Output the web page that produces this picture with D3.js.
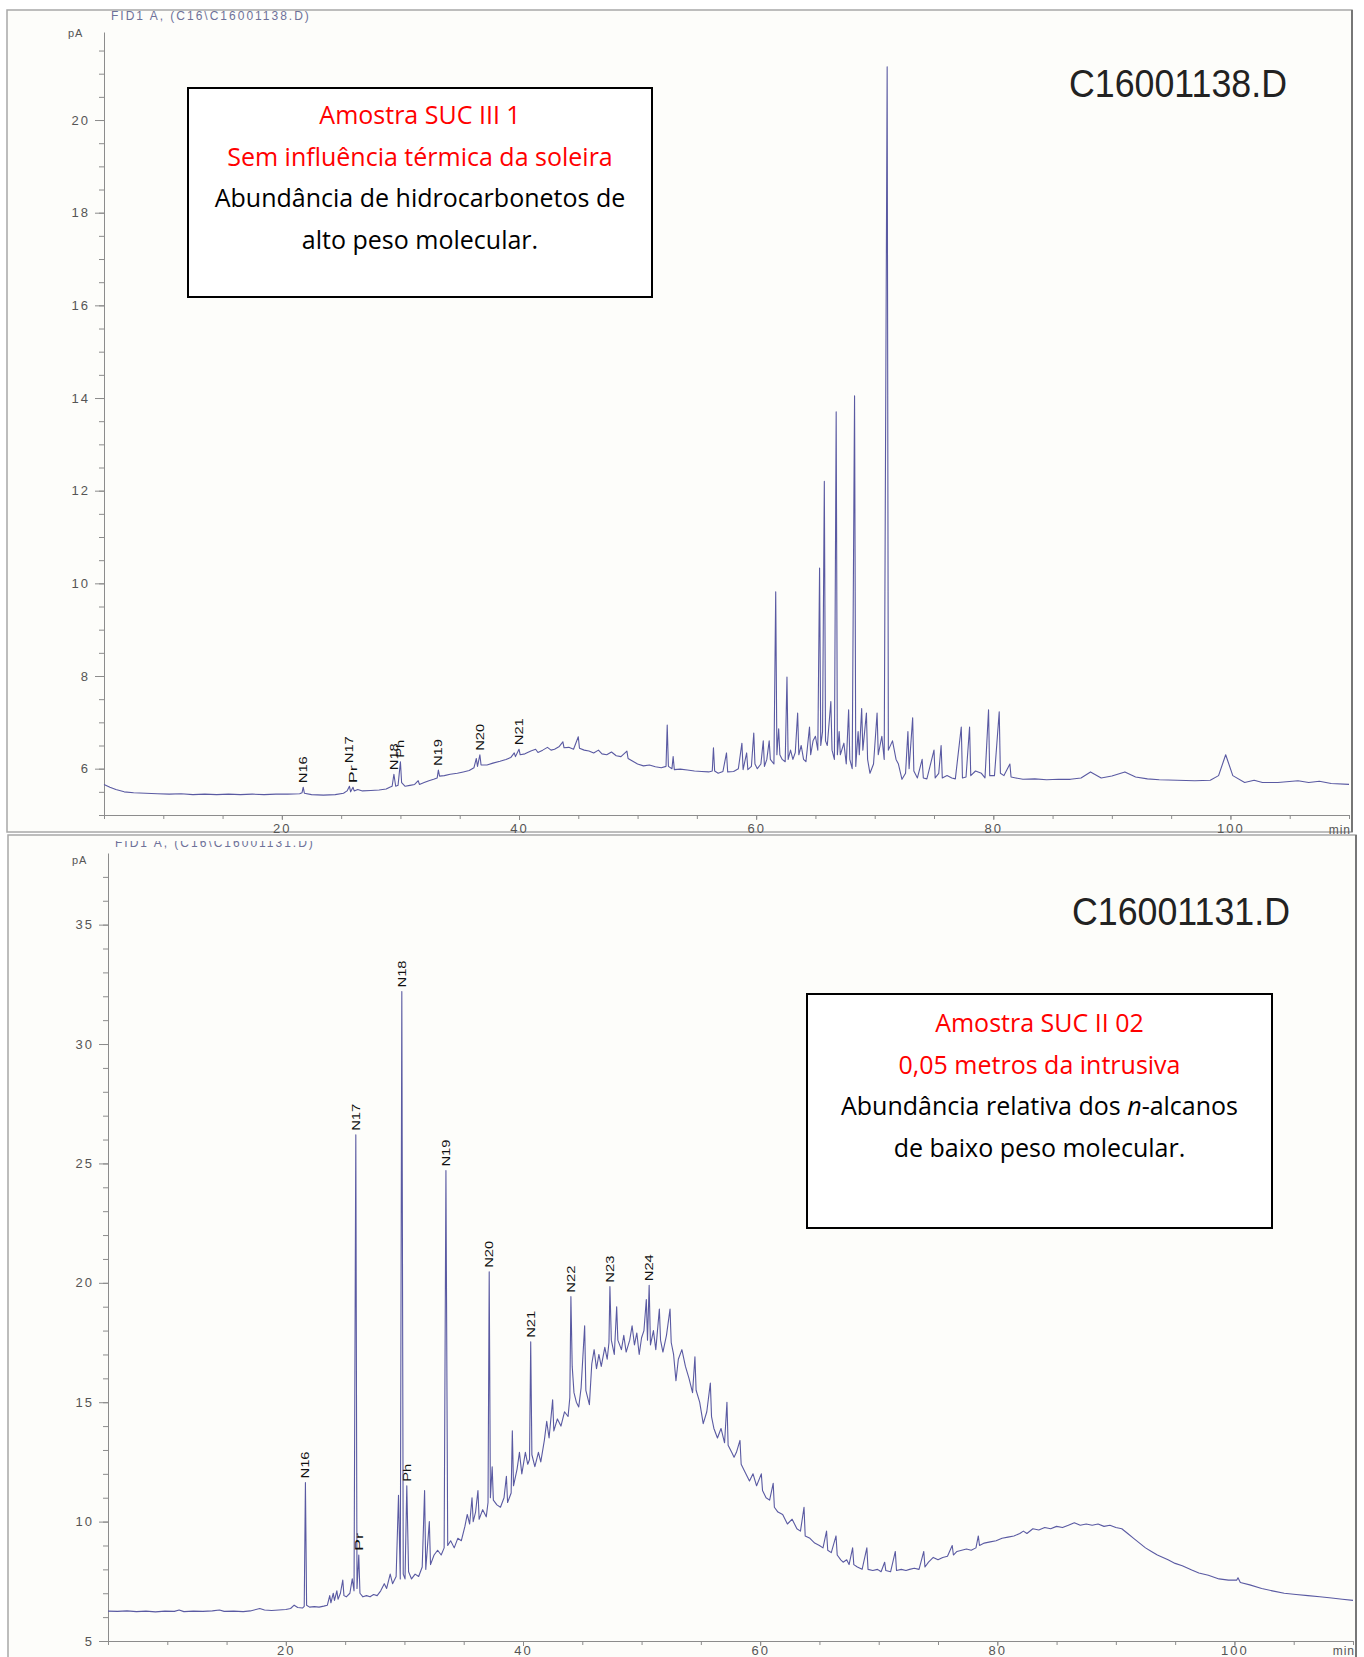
<!DOCTYPE html>
<html>
<head>
<meta charset="utf-8">
<script src="https://cdnjs.cloudflare.com/ajax/libs/d3/7.8.5/d3.min.js"></script>
<style>
body { margin: 0; background: #fff; }
svg { display: block; }
.axis path, .axis line { stroke: #8c8c8c; stroke-width: 1; }
.axis text { font-family: 'Liberation Sans', Arial, sans-serif; font-size: 13px; fill: #555; letter-spacing: 2px; }
.run { font-family: 'Liberation Sans', Arial, sans-serif; font-size: 12px; fill: #6d7199; letter-spacing: 2px; }
.peak { font-family: 'Liberation Sans', Arial, sans-serif; font-size: 11px; fill: #111; }
.note { font-family: 'Open Sans', 'Noto Sans', sans-serif; font-size: 25px; text-anchor: middle; }
</style>
</head>
<body>
<div class="chart"></div>
<script>
// [minutes, pA]
var topTrace = [
  [5.0,5.66],[5.5,5.6],[6.0,5.55],[6.7,5.5],[7.5,5.48],[8.5,5.47],[9.5,5.46],[10.5,5.45],[11.5,5.46],[12.5,5.44],
  [13.5,5.45],[14.5,5.44],[15.5,5.45],[16.5,5.44],[17.5,5.45],[18.5,5.44],[19.5,5.45],[20.5,5.45],[21.5,5.46],[21.7,5.48],
  [21.8,5.6],[21.9,5.47],[22.5,5.44],[23.5,5.43],[24.5,5.44],[25.2,5.47],[25.5,5.52],[25.7,5.62],[25.8,5.5],[26.0,5.6],
  [26.1,5.52],[26.4,5.55],[26.8,5.52],[27.5,5.53],[28.2,5.54],[28.8,5.56],[29.1,5.6],[29.3,5.62],[29.45,5.88],[29.6,5.62],
  [29.8,5.64],[30.0,6.15],[30.1,5.7],[30.4,5.62],[30.8,5.64],[31.2,5.66],[31.5,5.74],[31.6,5.66],[32.0,5.7],[32.4,5.74],
  [32.8,5.77],[33.1,5.8],[33.2,5.97],[33.3,5.84],[33.7,5.85],[34.2,5.88],[34.8,5.9],[35.3,5.93],[35.8,5.96],[36.2,6.02],
  [36.4,6.22],[36.5,6.05],[36.7,6.3],[36.8,6.08],[37.3,6.08],[37.8,6.12],[38.4,6.16],[38.9,6.2],[39.3,6.24],[39.6,6.34],
  [39.7,6.26],[40.0,6.42],[40.1,6.3],[40.5,6.32],[41.0,6.38],[41.4,6.42],[41.6,6.35],[42.0,6.4],[42.4,6.46],[42.7,6.4],
  [43.0,6.42],[43.4,6.48],[43.7,6.58],[43.8,6.45],[44.2,6.46],[44.6,6.42],[45.0,6.69],[45.1,6.44],[45.5,6.4],[45.9,6.38],
  [46.3,6.34],[46.7,6.4],[47.0,6.32],[47.4,6.3],[47.8,6.36],[48.2,6.28],[48.6,6.26],[49.1,6.38],[49.2,6.22],[49.6,6.16],
  [50.0,6.1],[50.5,6.06],[51.0,6.08],[51.5,6.04],[52.0,6.02],[52.4,6.05],[52.5,6.94],[52.6,6.05],[52.9,6.0],[53.0,6.26],
  [53.1,5.98],[53.6,5.99],[54.2,5.97],[54.8,5.95],[55.4,5.94],[56.0,5.93],[56.3,5.95],[56.4,6.45],[56.5,5.95],[56.8,5.9],
  [57.2,5.94],[57.5,6.34],[57.6,5.93],[58.1,5.94],[58.5,6.0],[58.8,6.55],[58.9,5.98],[59.2,6.34],[59.3,5.98],[59.6,6.05],
  [59.8,6.77],[59.9,6.1],[60.1,6.0],[60.4,6.1],[60.6,6.6],[60.7,6.05],[60.9,6.2],[61.1,6.6],[61.2,6.2],[61.5,6.1],
  [61.65,9.82],[61.75,6.3],[61.9,6.86],[62.0,6.3],[62.2,6.2],[62.45,6.15],[62.6,7.98],[62.7,6.2],[62.9,6.4],[63.1,6.2],
  [63.3,6.35],[63.5,7.2],[63.6,6.3],[63.8,6.5],[64.0,6.2],[64.2,6.15],[64.5,6.9],[64.6,6.3],[64.8,6.6],[65.0,6.7],
  [65.2,6.4],[65.35,10.33],[65.45,6.5],[65.6,6.8],[65.75,12.2],[65.85,6.6],[66.0,6.5],[66.3,7.45],[66.4,6.4],[66.6,6.2],
  [66.75,13.7],[66.85,6.3],[67.0,6.8],[67.1,6.3],[67.4,6.55],[67.6,6.1],[67.8,7.27],[67.9,6.2],[68.1,6.0],[68.3,14.05],
  [68.4,6.05],[68.6,6.8],[68.7,6.3],[68.9,7.3],[69.0,6.4],[69.3,7.2],[69.4,6.2],[69.6,5.9],[69.9,6.1],[70.2,7.2],
  [70.3,6.3],[70.6,6.7],[70.8,6.2],[71.05,21.15],[71.15,6.4],[71.5,6.6],[71.8,6.2],[72.0,6.1],[72.3,5.77],[72.6,5.9],
  [72.8,6.8],[72.9,6.0],[73.2,7.1],[73.3,5.95],[73.6,5.8],[74.0,6.2],[74.1,5.8],[74.4,5.78],[75.0,6.4],[75.1,5.8],
  [75.4,5.9],[75.6,6.5],[75.7,5.8],[76.1,5.85],[76.5,5.8],[76.8,5.78],[77.3,6.9],[77.4,5.8],[77.7,5.82],[78.0,6.9],
  [78.1,5.85],[78.5,5.95],[79.0,5.9],[79.3,5.8],[79.6,7.27],[79.7,5.85],[80.1,5.85],[80.5,7.23],[80.6,5.9],[80.9,5.85],
  [81.4,6.1],[81.5,5.82],[81.9,5.8],[82.5,5.77],[83.5,5.78],[84.5,5.76],[85.5,5.77],[86.5,5.77],[87.4,5.8],[88.2,5.93],
  [89.1,5.8],[90.0,5.84],[91.1,5.93],[92.0,5.82],[93.0,5.78],[94.0,5.76],[95.5,5.75],[97.0,5.74],[98.3,5.75],[99.0,5.85],
  [99.6,6.3],[100.2,5.85],[101.2,5.7],[102.0,5.75],[102.7,5.7],[104.0,5.7],[105.7,5.74],[106.6,5.7],[107.5,5.73],[108.5,5.68],
  [110.0,5.66]
];

var bottomTrace = [
  [5.0,6.25],[5.8,6.24],[6.6,6.26],[7.4,6.23],[8.2,6.25],[9.0,6.22],[9.8,6.25],[10.6,6.24],[11.0,6.3],[11.4,6.23],
  [12.2,6.25],[13.0,6.24],[13.8,6.26],[14.4,6.3],[14.8,6.24],[15.6,6.25],[16.4,6.23],[17.0,6.26],[17.8,6.36],[18.2,6.3],
  [18.8,6.28],[19.4,6.3],[20.0,6.32],[20.4,6.36],[20.7,6.5],[21.0,6.4],[21.4,6.38],[21.55,6.45],[21.65,11.64],[21.75,6.5],
  [22.0,6.42],[22.4,6.44],[22.8,6.42],[23.2,6.46],[23.5,6.5],[23.7,6.9],[23.8,6.6],[24.0,7.0],[24.1,6.7],[24.3,7.1],
  [24.4,6.75],[24.6,7.0],[24.8,7.55],[24.9,6.9],[25.1,6.85],[25.4,7.0],[25.6,7.6],[25.75,7.1],[25.9,26.2],[26.0,7.2],
  [26.15,8.6],[26.25,7.0],[26.5,6.85],[26.8,6.9],[27.1,6.85],[27.4,6.95],[27.7,6.9],[28.0,7.1],[28.3,7.4],[28.5,7.2],
  [28.8,7.8],[29.0,7.4],[29.3,7.7],[29.5,11.1],[29.65,7.6],[29.78,32.2],[29.9,7.8],[30.05,7.6],[30.2,11.5],[30.35,7.9],
  [30.6,7.6],[30.9,7.8],[31.2,7.7],[31.5,8.1],[31.7,11.3],[31.8,8.0],[32.1,10.0],[32.2,8.2],[32.5,8.6],[32.8,8.8],
  [33.1,8.6],[33.35,8.9],[33.5,24.7],[33.65,9.0],[33.9,9.2],[34.2,8.9],[34.5,9.3],[34.8,9.2],[35.1,9.8],[35.3,10.3],
  [35.5,9.9],[35.7,11.0],[35.8,10.0],[36.0,10.4],[36.2,11.3],[36.3,10.1],[36.6,10.5],[36.9,10.2],[37.05,10.8],[37.15,20.46],
  [37.25,11.0],[37.4,12.3],[37.5,10.9],[37.8,10.7],[38.1,10.6],[38.4,11.0],[38.6,11.9],[38.7,10.8],[39.0,11.2],[39.1,13.8],
  [39.2,11.5],[39.5,12.2],[39.7,12.9],[39.9,12.0],[40.2,12.9],[40.4,12.4],[40.55,12.6],[40.65,17.53],[40.75,12.8],[41.0,12.3],
  [41.3,12.9],[41.5,12.5],[41.8,13.4],[42.0,14.2],[42.2,13.5],[42.5,15.1],[42.6,13.8],[42.9,14.3],[43.2,14.0],[43.5,14.6],
  [43.8,14.4],[43.95,15.2],[44.04,19.42],[44.15,16.5],[44.3,15.4],[44.5,15.0],[44.7,14.8],[44.9,15.6],[45.2,18.2],[45.3,15.5],
  [45.6,14.9],[45.8,16.6],[46.0,17.2],[46.2,16.4],[46.4,17.0],[46.6,16.5],[46.9,17.3],[47.1,16.8],[47.25,17.5],[47.33,19.84],
  [47.45,17.6],[47.7,17.0],[47.9,19.0],[48.0,17.6],[48.3,17.2],[48.5,17.8],[48.7,17.1],[49.0,17.6],[49.2,18.2],[49.4,17.4],
  [49.6,17.9],[49.8,17.0],[50.0,17.7],[50.2,18.0],[50.4,19.3],[50.5,17.6],[50.64,19.9],[50.75,17.4],[51.0,18.0],[51.2,17.2],
  [51.5,18.9],[51.6,17.6],[51.8,17.1],[52.1,17.8],[52.4,18.9],[52.5,17.5],[52.7,17.0],[52.9,15.9],[53.1,16.8],[53.4,17.2],
  [53.7,16.5],[54.0,16.0],[54.3,15.4],[54.5,16.9],[54.6,15.5],[54.9,15.0],[55.2,14.1],[55.5,14.6],[55.8,15.8],[55.9,14.4],
  [56.1,13.9],[56.4,13.5],[56.7,13.9],[57.0,13.3],[57.2,15.0],[57.3,13.2],[57.6,12.9],[57.8,12.7],[58.0,12.9],[58.3,13.4],
  [58.4,12.4],[58.7,12.1],[59.1,11.7],[59.4,12.0],[59.7,11.5],[60.1,12.0],[60.2,11.3],[60.5,11.0],[60.8,10.9],[61.1,11.6],
  [61.2,10.6],[61.5,10.4],[61.9,10.3],[62.3,9.9],[62.7,10.1],[63.1,9.7],[63.4,9.6],[63.7,10.6],[63.8,9.4],[64.2,9.3],
  [64.6,9.1],[65.0,9.0],[65.3,8.9],[65.6,9.6],[65.7,8.8],[66.0,8.7],[66.4,9.4],[66.5,8.6],[66.8,8.4],[67.0,8.3],
  [67.3,8.4],[67.5,8.2],[67.8,8.9],[67.9,8.2],[68.2,8.1],[68.6,8.0],[69.0,8.9],[69.1,8.0],[69.5,7.95],[69.9,8.0],
  [70.2,7.9],[70.5,8.3],[70.6,7.95],[71.0,7.9],[71.4,8.75],[71.5,7.95],[71.9,8.0],[72.3,7.95],[72.6,8.0],[73.0,8.05],
  [73.4,8.0],[73.8,8.75],[73.9,8.1],[74.2,8.3],[74.6,8.5],[75.0,8.4],[75.4,8.5],[75.8,8.55],[76.2,9.0],[76.3,8.6],
  [76.6,8.75],[77.0,8.8],[77.4,8.85],[77.8,8.8],[78.2,8.9],[78.4,9.4],[78.5,9.0],[78.9,9.1],[79.4,9.15],[79.9,9.2],
  [80.4,9.3],[80.9,9.35],[81.4,9.4],[81.9,9.5],[82.2,9.6],[82.5,9.5],[83.0,9.7],[83.5,9.65],[84.0,9.75],[84.5,9.7],
  [85.0,9.8],[85.5,9.75],[86.0,9.85],[86.5,9.95],[87.0,9.85],[87.5,9.9],[88.0,9.85],[88.5,9.9],[89.0,9.8],[89.5,9.85],
  [90.0,9.75],[90.5,9.7],[91.0,9.5],[91.5,9.3],[92.0,9.1],[92.5,8.9],[93.0,8.75],[93.5,8.6],[94.4,8.4],[95.0,8.25],
  [95.6,8.15],[96.4,7.97],[97.0,7.85],[97.8,7.75],[98.7,7.6],[99.5,7.55],[100.2,7.55],[100.3,7.65],[100.5,7.45],[101.3,7.35],
  [102.3,7.2],[103.2,7.1],[104.2,7.0],[105.2,6.95],[106.2,6.9],[107.2,6.85],[108.2,6.8],[109.1,6.75],[110.0,6.7]
];

var topPeakNames = ['N16', 'N17', 'Pr', 'N18', 'Ph', 'N19', 'N20', 'N21'];
var topPeakTimes = [21.8, 25.7, 26.0, 29.45, 30.0, 33.2, 36.7, 40.0];

var bottomPeakNames = ['N16', 'N17', 'Pr', 'N18', 'Ph', 'N19', 'N20', 'N21', 'N22', 'N23', 'N24'];
var bottomPeakTimes = [21.65, 25.9, 26.15, 29.78, 30.2, 33.5, 37.15, 40.65, 44.04, 47.33, 50.64];

var topYTicks = [6, 8, 10, 12, 14, 16, 18, 20];
var bottomYTicks = [5, 10, 15, 20, 25, 30, 35];
var xTickLabels = [20, 40, 60, 80, 100];

var topNote = ['Amostra SUC III 1', 'Sem influência térmica da soleira',
               'Abundância de hidrocarbonetos de', 'alto peso molecular.'];
var bottomNote = ['Amostra SUC II 02', '0,05 metros da intrusiva',
                  'Abundância relativa dos |n|-alcanos', 'de baixo peso molecular.'];

var svg = d3.select('div.chart').append('svg')
    .attr('width', 1364)
    .attr('height', 1657);

svg.append('defs').append('clipPath')
    .attr('id', 'lowerClip')
  .append('rect')
    .attr('x', 0).attr('y', 841).attr('width', 1364).attr('height', 820);

function drawPanel(p) {
  var g = svg.append('g');

  g.append('rect')
      .attr('x', p.frame[0]).attr('y', p.frame[1])
      .attr('width', p.frame[2]).attr('height', p.frame[3])
      .attr('fill', '#fdfdfa')
      .attr('stroke', '#a8a8a8')
      .attr('stroke-width', 1.5);
  g.append('line')
      .attr('x1', p.frame[0] + p.frame[2]).attr('x2', p.frame[0] + p.frame[2])
      .attr('y1', p.frame[1]).attr('y2', p.frame[1] + p.frame[3])
      .attr('stroke', '#777').attr('stroke-width', 2);

  var x = d3.scaleLinear().domain([5, 110]).range(p.xRange);
  var y = d3.scaleLinear().domain(p.yDomain).range(p.yRange);

  // y axis: labelled ticks plus small unlabelled ones
  g.append('g')
      .attr('class', 'axis')
      .attr('transform', 'translate(' + p.xRange[0] + ',0)')
      .call(d3.axisLeft(y).tickValues(d3.range(p.yDomain[0], p.yDomain[1], p.yMinor))
            .tickSize(5).tickSizeOuter(0).tickFormat(''));
  g.append('g')
      .attr('class', 'axis')
      .attr('transform', 'translate(' + p.xRange[0] + ',0)')
      .call(d3.axisLeft(y).tickValues(p.yTicks).tickSize(9).tickSizeOuter(0).tickPadding(5))
      .call(a => a.select('.domain').remove());

  g.append('g')
      .attr('class', 'axis')
      .attr('transform', 'translate(0,' + p.yRange[0] + ')')
      .call(d3.axisBottom(x).tickValues(d3.range(5, 111, 5))
            .tickSize(4).tickSizeOuter(0).tickFormat(''));
  g.append('g')
      .attr('class', 'axis')
      .attr('transform', 'translate(0,' + p.yRange[0] + ')')
      .call(d3.axisBottom(x).tickValues(xTickLabels).tickSize(5).tickPadding(p.xPad))
      .call(a => a.select('.domain').remove());

  g.append('text')
      .attr('class', 'run')
      .attr('x', p.xRange[1] + 2)
      .attr('y', p.minY)
      .attr('text-anchor', 'end')
      .style('fill', '#555')
      .style('letter-spacing', '1px')
      .text('min');

  g.append('text')
      .attr('class', 'run')
      .attr('x', p.xRange[0] - 36)
      .attr('y', p.pAy)
      .style('fill', '#555')
      .style('font-size', '11px')
      .style('letter-spacing', '1px')
      .text('pA');

  var title = g.append('text')
      .attr('class', 'run')
      .attr('x', p.xRange[0] + 7)
      .attr('y', p.titleY)
      .text(p.title);
  if (p.clip) title.attr('clip-path', 'url(#lowerClip)');

  var line = d3.line()
      .x(d => x(d[0]))
      .y(d => y(d[1]));

  g.append('path')
      .datum(p.trace)
      .attr('fill', 'none')
      .attr('stroke', '#5a5aa2')
      .attr('stroke-width', 1.1)
      .attr('stroke-linejoin', 'round')
      .attr('d', line);

  // peak labels, rotated, sitting on the apex of each named peak
  var peaks = p.names.map(function(n, i) {
    var t = p.times[i];
    var apex = d3.max(p.trace.filter(d => Math.abs(d[0] - t) < 0.08), d => d[1]);
    return {name: n, px: x(t), bottom: y(apex) - 4, len: n.length * 9};
  });
  var placed = [];
  peaks.slice().sort((a, b) => b.bottom - a.bottom).forEach(function(pk) {
    placed.forEach(function(q) {
      if (Math.abs(q.px - pk.px) < 5 && pk.bottom > q.bottom - q.len - 1 && pk.bottom - pk.len < q.bottom) {
        pk.bottom = q.bottom - q.len - 2;
      }
    });
    placed.push(pk);
  });
  g.selectAll('text.peak')
    .data(peaks).enter().append('text')
      .attr('class', 'peak')
      .attr('transform', d => 'translate(' + d.px + ',' + d.bottom + ') rotate(-90)')
      .attr('dy', '0.36em')
      .attr('textLength', d => d.len)
      .attr('lengthAdjust', 'spacingAndGlyphs')
      .text(d => d.name);

  g.append('text')
      .attr('x', p.idPos[0])
      .attr('y', p.idPos[1])
      .attr('text-anchor', 'middle')
      .attr('textLength', 218)
      .attr('lengthAdjust', 'spacingAndGlyphs')
      .style('font-family', "'Liberation Sans', Arial, sans-serif")
      .style('font-size', '38px')
      .style('fill', '#222')
      .text(p.id);

  g.append('rect')
      .attr('x', p.box[0]).attr('y', p.box[1])
      .attr('width', p.box[2]).attr('height', p.box[3])
      .attr('fill', '#fff')
      .attr('stroke', '#000')
      .attr('stroke-width', 2);

  var cx = p.box[0] + p.box[2] / 2;
  p.note.forEach(function(s, i) {
    var t = g.append('text')
        .attr('class', 'note')
        .attr('x', cx)
        .attr('y', p.box[1] + p.noteTop + i * 41.5)
        .style('fill', i < 2 ? '#ff0000' : '#000');
    s.split('|').forEach(function(part, j) {
      t.append('tspan')
          .style('font-style', j === 1 ? 'italic' : 'normal')
          .text(part);
    });
  });
}

drawPanel({
  frame: [7, 10, 1345, 822],
  xRange: [104, 1349],
  yDomain: [5, 21.9], yRange: [815, 32], yMinor: 0.5,
  yTicks: topYTicks, xPad: 4, minY: 834,
  trace: topTrace,
  names: topPeakNames, times: topPeakTimes,
  title: 'FID1 A, (C16\\C16001138.D)', titleY: 20, pAy: 37,
  id: 'C16001138.D', idPos: [1178, 97],
  box: [188, 88, 464, 209], noteTop: 36,
  note: topNote
});

drawPanel({
  frame: [8, 835, 1348, 830],
  xRange: [108, 1353],
  yDomain: [5, 38], yRange: [1641, 853], yMinor: 1,
  yTicks: bottomYTicks, xPad: 0, minY: 1655,
  trace: bottomTrace,
  names: bottomPeakNames, times: bottomPeakTimes,
  title: 'FID1 A, (C16\\C16001131.D)', titleY: 847, pAy: 864, clip: true,
  id: 'C16001131.D', idPos: [1181, 925],
  box: [807, 994, 465, 234], noteTop: 38,
  note: bottomNote
});
</script>
</body>
</html>
